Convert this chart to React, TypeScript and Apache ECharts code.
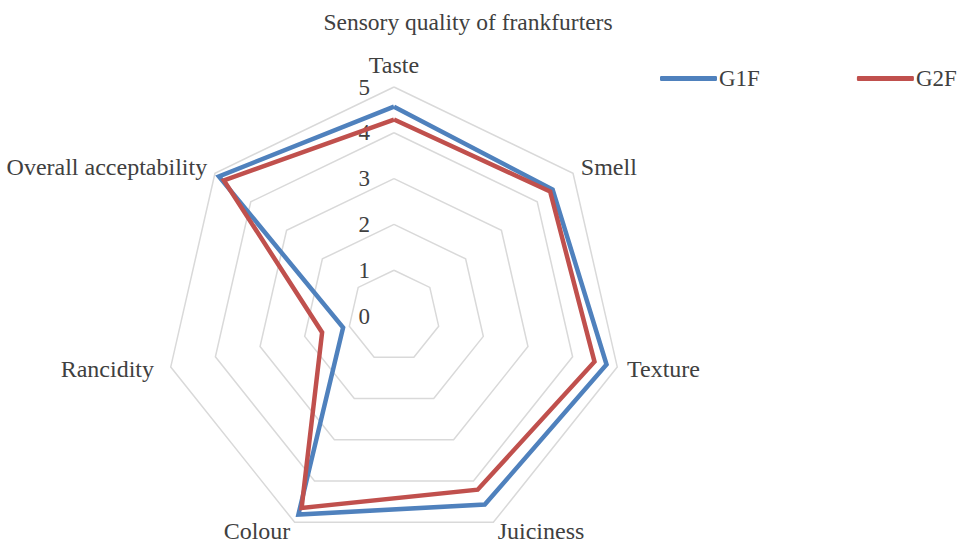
import React, { useEffect, useRef } from "react";
import * as echarts from "echarts";

const titleText = "Sensory quality of frankfurters";
const categories = ["Taste", "Smell", "Texture", "Juiciness", "Colour", "Rancidity", "Overall acceptability"];
const seriesNames = ["G1F", "G2F"];
const g1f = [4.57, 4.43, 4.76, 4.57, 4.81, 1.14, 4.89];
const g2f = [4.29, 4.36, 4.49, 4.21, 4.65, 1.61, 4.75];
const scaleMin = 0;
const scaleMax = 5;
const scaleStep = 1;

const FONT = "'Liberation Serif', 'Times New Roman', serif";
const TEXT = "#404040";

export default function App() {
  const ref = useRef<HTMLDivElement>(null);
  useEffect(() => {
    if (!ref.current) return;
    const chart = echarts.init(ref.current, undefined, { renderer: "svg" });
    // ECharts places radar indicators counter-clockwise; reorder for clockwise layout
    const order = categories.map((_, i) => (i === 0 ? 0 : categories.length - i));
    const ind = order.map((i) => ({ name: categories[i], min: scaleMin, max: scaleMax }));
    const v1 = order.map((i) => g1f[i]);
    const v2 = order.map((i) => g2f[i]);
    const center = [394, 316];
    const radius = 229;
    chart.setOption({
      animation: false,
      backgroundColor: "#ffffff",
      title: {
        text: titleText,
        left: 463,
        top: 5,
        textAlign: "center",
        textStyle: { fontFamily: FONT, fontSize: 23.5, fontWeight: "normal", color: TEXT },
      },
      legend: {
        data: seriesNames,
        left: 655,
        top: 62,
        icon: "roundRect",
        itemWidth: 57,
        itemHeight: 5,
        itemGap: 97,
        textStyle: { fontFamily: FONT, fontSize: 23, color: TEXT, padding: [0, 0, 0, -3] },
      },
      radar: {
        center,
        radius,
        startAngle: 90,
        shape: "polygon",
        splitNumber: (scaleMax - scaleMin) / scaleStep,
        nameGap: 10,
        axisName: {
          fontFamily: FONT,
          fontSize: 24,
          color: TEXT,
          formatter: (name: string) => (name === "Rancidity" ? `{r|${name}}` : name),
          rich: { r: { fontFamily: FONT, fontSize: 24, color: TEXT, padding: [0, 7, 0, 0] } },
        },
        axisLine: { show: false },
        axisTick: { show: false },
        axisLabel: { show: false },
        splitArea: { show: false },
        splitLine: { lineStyle: { color: "#d9d9d9", width: 1.5 } },
        indicator: ind,
      },
      polar: { center, radius },
      angleAxis: { show: false, startAngle: 90, min: 0, max: 360 },
      radiusAxis: {
        min: scaleMin,
        max: scaleMax,
        interval: scaleStep,
        axisLine: { show: false },
        axisTick: { show: false },
        splitLine: { show: false },
        axisLabel: { show: true, fontFamily: FONT, fontSize: 23, color: TEXT, margin: 24 },
      },
      series: [
        {
          type: "radar",
          symbol: "none",
          data: [
            { name: seriesNames[0], value: v1, lineStyle: { color: "#4f81bd", width: 4.5, join: "miter" }, itemStyle: { color: "#4f81bd" } },
            { name: seriesNames[1], value: v2, lineStyle: { color: "#c0504d", width: 4.5, join: "miter" }, itemStyle: { color: "#c0504d" } },
          ],
        },
      ],
    });
    return () => chart.dispose();
  }, []);
  return <div ref={ref} style={{ position: "fixed", left: 0, top: 0, width: 970, height: 545 }} />;
}
